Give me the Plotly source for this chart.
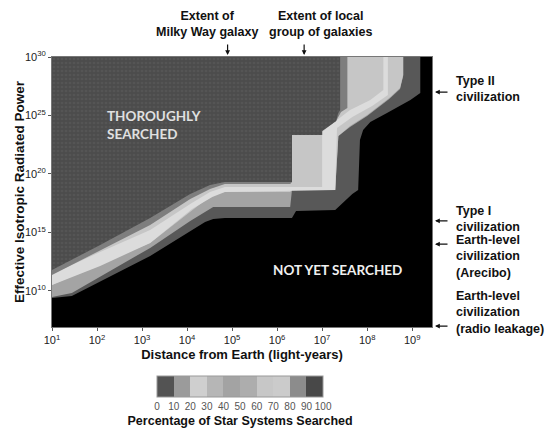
import plotly.graph_objects as go

# ---------------- data (log10 units) ----------------
dist_tick_exp = [1, 2, 3, 4, 5, 6, 7, 8, 9]
power_tick_exp = [10, 15, 20, 25, 30]
dist_range_exp = [1.0, 9.44]
power_range_exp = [6.92, 30.0]

# boundary: black (0%) / dark band
b0_dist = [1.00, 1.44, 3.18, 4.40, 4.58, 4.84, 6.33, 6.42, 7.29, 7.47, 7.67, 7.80, 7.84, 7.91, 8.07, 8.44, 8.96, 9.18, 9.18]
b0_pow = [9.40, 9.57, 12.99, 15.90, 16.15, 16.24, 16.24, 16.84, 16.92, 17.61, 18.29, 18.63, 22.91, 23.76, 24.44, 25.21, 26.32, 26.92, 30.0]
# boundary: dark band / medium band
b1_dist = [1.00, 1.44, 3.18, 4.07, 4.58, 6.29, 6.33, 7.29, 7.36, 7.62, 8.00, 8.49, 8.73, 8.80, 8.80]
b1_pow = [9.49, 9.83, 13.68, 15.98, 17.18, 17.18, 18.63, 18.63, 23.25, 24.02, 24.96, 26.41, 27.26, 28.38, 30.0]
# boundary: medium band / light band
b2_dist = [1.00, 2.07, 3.18, 4.07, 4.58, 4.84, 6.29, 6.33, 7.29, 7.36, 7.62, 8.00, 8.49, 8.73, 8.80, 8.80]
b2_pow = [10.51, 12.31, 14.10, 16.75, 18.29, 18.46, 18.46, 18.63, 18.63, 23.25, 24.10, 25.04, 26.50, 27.35, 28.46, 30.0]
# bright stripe inside the light band (closed outline)
stripe_dist = [1.00, 2.07, 3.18, 4.07, 4.51, 4.84, 7.00, 7.00, 7.33, 7.62, 8.07, 8.36, 8.36,
               8.46, 8.46, 8.11, 7.67, 7.33, 7.29, 4.84, 4.56, 4.11, 3.18, 2.07, 1.00]
stripe_pow = [11.45, 13.33, 15.21, 17.44, 18.46, 18.89, 18.89, 23.59, 24.62, 25.47, 26.32, 27.18, 30.0,
              30.0, 26.75, 25.81, 24.87, 23.93, 18.63, 18.46, 18.03, 17.01, 14.10, 12.14, 10.51]
# boundary: light band / 80-90% band
b4_dist = [1.00, 2.07, 3.18, 4.07, 4.51, 4.84, 6.29, 6.33, 6.33, 7.00, 7.00, 7.31, 7.42, 7.56, 7.56]
b4_pow = [11.37, 13.50, 15.64, 17.86, 18.72, 19.15, 19.15, 19.32, 23.33, 23.33, 23.68, 24.53, 25.30, 25.64, 30.0]
# boundary: thoroughly searched (100%)
b5_dist = [1.00, 2.07, 3.18, 4.07, 4.51, 4.84, 6.33, 6.33, 7.00, 7.00, 7.31, 7.36, 7.40, 7.40]
b5_pow = [11.79, 13.93, 16.24, 18.29, 19.06, 19.32, 19.32, 23.33, 23.33, 23.68, 24.53, 25.21, 25.47, 30.0]

pct_bins = [0, 10, 20, 30, 40, 50, 60, 70, 80, 90, 100]
pct_colors = ['#535353', '#9b9b9b', '#cfcfcf', '#b6b6b6', '#a3a3a3',
              '#adadad', '#c7c7c7', '#cbcbcb', '#8c8c8c', '#484848']

civ_labels = ["Type II<br>civilization",
              "Type I<br>civilization",
              "Earth-level<br>civilization<br>(Arecibo)",
              "Earth-level<br>civilization<br>(radio leakage)"]
civ_power_exp = [27, 16, 14, 7]

extent_labels = ["Extent of<br>Milky Way galaxy", "Extent of local<br>group of galaxies"]
extent_dist_exp = [4.9, 6.6]

# ---------------- figure ----------------
FONT = "Liberation Sans"
fig = go.Figure()


def p10(v):
    return 10.0 ** float(v)


def region(xs, ys, color, pattern=None):
    xx = [p10(v) for v in xs] + [p10(0.5)]
    yy = [p10(v) for v in ys] + [p10(30.5)]
    kw = dict(x=xx, y=yy, mode='lines', fill='toself', fillcolor=color,
              line=dict(width=0, color=color), hoverinfo='skip', showlegend=False)
    if pattern:
        kw['fillpattern'] = pattern
    fig.add_trace(go.Scatter(**kw))


region(b0_dist, b0_pow, '#585858')
region(b1_dist, b1_pow, '#a4a4a4')
region(b2_dist, b2_pow, '#c6c6c6')
fig.add_trace(go.Scatter(x=[p10(v) for v in stripe_dist], y=[p10(v) for v in stripe_pow],
                         mode='lines', fill='toself', fillcolor='#dcdcdc',
                         line=dict(width=0, color='#dcdcdc'), hoverinfo='skip', showlegend=False))
region(b4_dist, b4_pow, '#7e7e7e')
region(b5_dist, b5_pow, '#4c4c4c',
       pattern=dict(shape='.', bgcolor='#4c4c4c', fgcolor='#5e5e5e', size=4, solidity=0.35))

colorscale = []
for i, c in enumerate(pct_colors):
    colorscale += [[i / 10, c], [(i + 1) / 10, c]]

fig.add_trace(go.Scatter(
    x=[None], y=[None], mode='markers', hoverinfo='skip', showlegend=False,
    marker=dict(color=[0], cmin=0, cmax=100, colorscale=colorscale, showscale=True,
                colorbar=dict(orientation='h', x=0.495, xanchor='center', y=-0.181, yanchor='top',
                              len=166, lenmode='pixels', thickness=21, thicknessmode='pixels',
                              xpad=0, ypad=0, tickvals=pct_bins, ticks='',
                              tickfont=dict(family=FONT, size=10, color='#555'),
                              outlinewidth=1, outlinecolor='#999',
                              title=dict(text='Percentage of Star Systems Searched', side='bottom',
                                         font=dict(family=FONT, size=12.5, color='#111', weight='bold'))))))

ann = []
# in-plot labels
ann.append(dict(x=2.18, y=24.23, xref='x', yref='y', text='THOROUGHLY<br>SEARCHED', showarrow=False,
                xanchor='left', yanchor='middle', align='left',
                font=dict(family='Lato', size=13.5, color='#e0e0e0', weight='bold')))
ann.append(dict(x=7.33, y=11.79, xref='x', yref='y', text='NOT YET SEARCHED', showarrow=False,
                font=dict(family='Lato', size=13.5, color='#f0f0f0', weight='bold')))

# y-axis title
ann.append(dict(x=(19 - 52) / 380, y=0.5, xref='paper', yref='paper', textangle=-90,
                text='Effective Isotropic Radiated Power', showarrow=False,
                xanchor='center', yanchor='middle',
                font=dict(family=FONT, size=13.5, color='#111', weight='bold')))

# right-side civilization labels
civ_center_px = [89, 219, 256, 312]
for label, pexp, cy in zip(civ_labels, civ_power_exp, civ_center_px):
    ann.append(dict(x=(435 - 52) / 380, y=pexp, xref='paper', yref='y', text='', showarrow=True,
                    ax=14, ay=0, arrowhead=2, arrowsize=0.8, arrowwidth=1.2, arrowcolor='#111'))
    ann.append(dict(x=(454 - 52) / 380, y=(327 - cy) / 270, xref='paper', yref='paper', text=label,
                    showarrow=False, xanchor='left', yanchor='middle', align='left',
                    font=dict(family=FONT, size=12.5, color='#111', weight='bold')))

# top extent labels
ext_cx = [207, 321]
for label, dexp, cx in zip(extent_labels, extent_dist_exp, ext_cx):
    ann.append(dict(x=dexp, y=(327 - 55) / 270, xref='x', yref='paper', text='', showarrow=True,
                    ax=0, ay=-12, arrowhead=2, arrowsize=0.8, arrowwidth=1.2, arrowcolor='#111'))
    ann.append(dict(x=(cx - 52) / 380, y=(327 - 24) / 270, xref='paper', yref='paper', text=label,
                    showarrow=False, xanchor='center', yanchor='middle', align='center',
                    font=dict(family=FONT, size=12.5, color='#111', weight='bold')))

fig.update_layout(
    width=550, height=430,
    margin=dict(l=52, r=118, t=57, b=103, autoexpand=False),
    paper_bgcolor='white', plot_bgcolor='black',
    font=dict(family=FONT, color='#222'),
    annotations=ann,
    xaxis=dict(type='log', range=dist_range_exp,
               tickvals=[p10(e) for e in dist_tick_exp],
               ticktext=[f'10<sup>{e}</sup>' for e in dist_tick_exp],
               ticks='outside', ticklen=3, tickcolor='#555', showgrid=False, zeroline=False,
               showline=True, linecolor='#777', mirror=True,
               tickfont=dict(family=FONT, size=11, color='#222'),
               title=dict(text='Distance from Earth (light-years)', standoff=4,
                          font=dict(family=FONT, size=13, color='#111', weight='bold'))),
    yaxis=dict(type='log', range=power_range_exp,
               tickvals=[p10(e) for e in power_tick_exp],
               ticktext=[f'10<sup>{e}</sup>' for e in power_tick_exp],
               ticks='outside', ticklen=3, tickcolor='#555', showgrid=False, zeroline=False,
               showline=True, linecolor='#777', mirror=True,
               tickfont=dict(family=FONT, size=11, color='#222')),
)

fig.write_html("out.html", config={'displayModeBar': False},
               post_script="document.body.style.margin='0px';document.body.style.padding='0px';")
